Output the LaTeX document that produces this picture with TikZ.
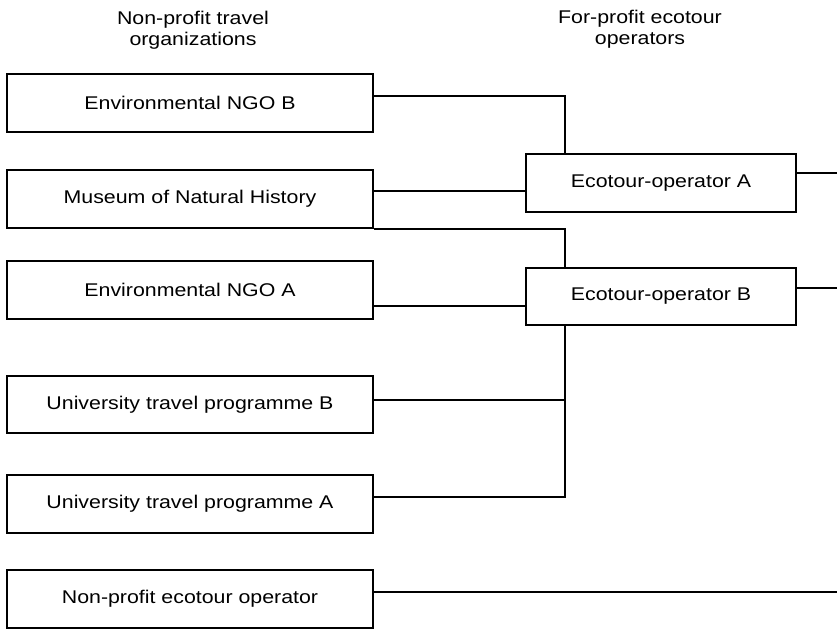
\documentclass[tikz,border=0pt]{standalone}
\usepackage{fontspec}
\setmainfont{Liberation Sans}[FakeStretch=1.16]
\begin{document}
\begin{tikzpicture}[x=0.75pt,y=-0.75pt,line width=1.4pt,
  org/.style={draw,minimum width=274.5pt,minimum height=43pt,inner sep=0pt},
  opr/.style={draw,minimum width=202.5pt,minimum height=43pt,inner sep=0pt},
  head/.style={align=center}]
  \useasboundingbox (0,0) rectangle (837,629);
  \fontsize{13.8}{15.8}\selectfont
  \coordinate (jx) at (565,0);
  \coordinate (rim) at (837,0);
  % headings
  \node[head] (hl) at (193,30) {Non-profit travel\\organizations};
  \node[head] (hr) at (640,29) {For-profit ecotour\\operators};
  % non-profit side
  \node[org] (ngob) at (190,103) {Environmental NGO B};
  \node[org] (mus) at (190,199) {Museum of Natural History};
  \node[org] (ngoa) at (190,290) {Environmental NGO A};
  \node[org] (unib) at (190,404.5) {University travel programme B};
  \node[org] (unia) at (190,504) {University travel programme A};
  \node[org] (npo) at (190,599) {Non-profit ecotour operator};
  % for-profit side
  \node[opr] (opa) at (661,183) {Ecotour-operator A};
  \node[opr] (opb) at (661,296.5) {Ecotour-operator B};
  % links
  \draw ([yshift=5pt]ngob.east) -| (opa.north -| jx);
  \draw ([yshift=-6pt]opa.west) -- ([yshift=-6pt]opa.west -| mus.east);
  \draw (mus.south east) -| (opb.north -| jx);
  \draw ([yshift=-7pt]opb.west) -- ([yshift=-7pt]opb.west -| ngoa.east);
  \draw ([yshift=3.4pt]unib.east) -- ([yshift=3.4pt]unib.east -| jx);
  \draw (opb.south -| jx) |- ([yshift=5pt]unia.east);
  \draw ([yshift=5pt]npo.east) -- ([yshift=5pt]npo.east -| rim);
  \draw ([yshift=7.5pt]opa.east) -- ([yshift=7.5pt]opa.east -| rim);
  \draw ([yshift=6.4pt]opb.east) -- ([yshift=6.4pt]opb.east -| rim);
\end{tikzpicture}
\end{document}
